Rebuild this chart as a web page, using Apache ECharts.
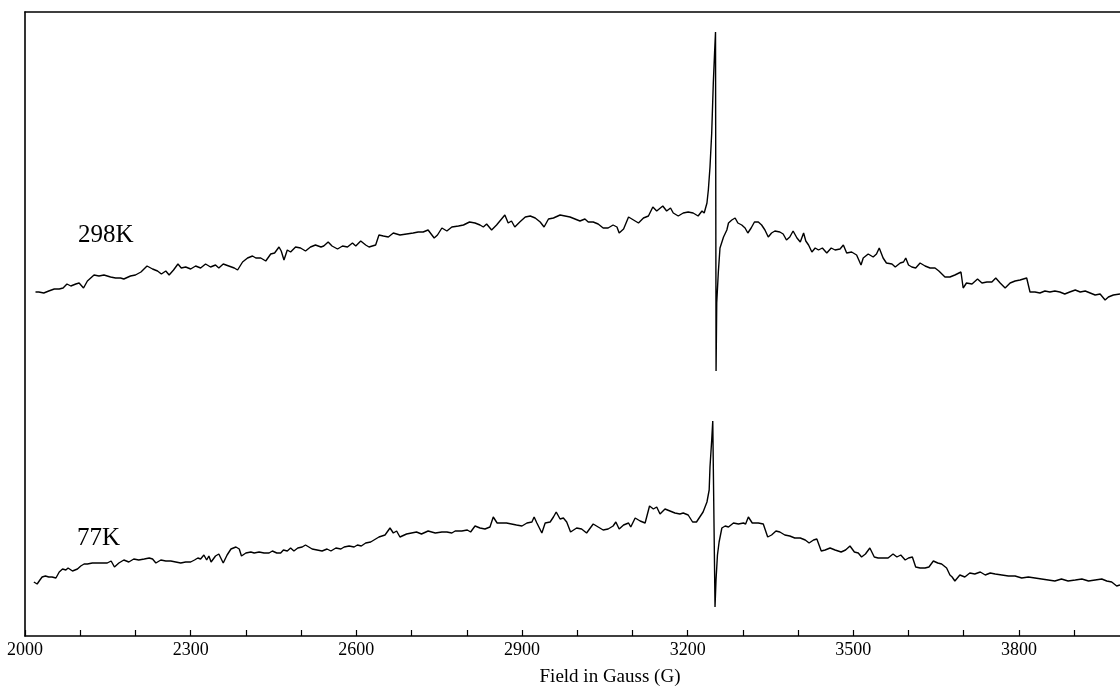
<!DOCTYPE html>
<html>
<head>
<meta charset="utf-8">
<script src="https://cdn.jsdelivr.net/npm/echarts@6/dist/echarts.min.js"></script>
<style>
html,body{margin:0;padding:0;background:#fff;}
#chart{width:1120px;height:692px;}
</style>
</head>
<body>
<div id="chart"></div>
<script>
// Field (G) and intensity (arb. units)
const fields298 = [2019,2025,2034,2043,2053,2062,2069,2076,2083,2092,2098,2106,2113,2125,2134,2143,2155,2164,2173,2179,2191,2200,2210,2221,2231,2240,2247,2255,2261,2269,2277,2283,2291,2300,2309,2318,2327,2336,2345,2351,2359,2369,2379,2385,2394,2403,2412,2418,2427,2436,2445,2452,2460,2464,2469,2475,2481,2490,2499,2508,2517,2526,2536,2541,2549,2556,2566,2575,2584,2593,2599,2608,2617,2623,2635,2641,2649,2658,2667,2679,2691,2703,2712,2721,2730,2741,2747,2755,2764,2773,2785,2794,2805,2815,2824,2830,2836,2845,2854,2863,2869,2875,2881,2887,2896,2906,2915,2924,2933,2940,2948,2957,2969,2978,2987,2996,3005,3014,3020,3029,3038,3047,3056,3065,3072,3076,3084,3093,3102,3111,3120,3129,3137,3144,3155,3162,3169,3174,3183,3192,3201,3210,3219,3226,3230,3235,3237.5,3240.5,3243.6,3246.5,3249,3250.5,3251.5,3252.7,3255.6,3258.6,3265,3271,3274,3280,3286,3291,3298,3304,3309,3315,3321,3328,3334,3340,3346,3352,3358,3367,3373,3379,3385,3391,3398,3404,3410,3414,3419,3425,3431,3437,3444,3452,3460,3467,3476,3482,3488,3497,3506,3514,3518,3527,3536,3542,3547,3554,3560,3570,3576,3585,3591,3595,3600,3606,3613,3621,3630,3639,3648,3655,3666,3675,3684,3695,3699,3705,3715,3725,3733,3742,3751,3758,3766,3775,3784,3793,3802,3805,3814,3820,3829,3838,3847,3856,3865,3874,3883,3892,3902,3911,3920,3929,3938,3947,3956,3962,3971,3983];
const values298 = [344,344,343,345,347,347,348,352,350,352,353,348,355,361,360,361,359,358,358,357,360,361,364,370,367,365,362,365,361,366,372,368,369,367,370,368,372,369,371,368,372,370,368,366,374,378,380,378,378,375,382,383,389,385,376,386,384,389,388,385,389,391,389,390,394,390,387,390,389,393,390,395,391,389,391,401,400,399,403,401,402,403,404,404,406,398,401,408,405,409,410,411,414,413,411,409,412,406,411,417,421,413,415,409,414,419,420,418,414,409,417,418,421,420,419,417,415,417,414,414,412,408,408,411,409,403,407,419,416,413,418,420,429,425,430,425,428,423,420,423,424,423,420,425,423,433,446,469,503,553,586,604,265,333,364,388,399,406,413,416,418,413,411,408,403,408,414,414,411,406,399,403,405,404,402,396,399,405,398,394,403,395,391,384,388,386,388,383,388,386,387,391,383,384,381,371,378,382,379,382,388,378,373,372,369,373,374,378,371,369,368,373,370,368,368,365,359,359,361,364,348,353,352,357,353,354,354,358,353,348,353,355,356,354,358,344,344,343,345,344,345,344,342,344,346,344,345,343,341,342,336,339,341,342];

const fields77 = [2016,2022,2027,2031,2037,2043,2049,2056,2062,2068,2074,2078,2086,2095,2101,2107,2113,2122,2131,2140,2149,2156,2162,2170,2179,2188,2197,2206,2216,2225,2231,2237,2246,2255,2264,2273,2282,2291,2300,2307,2313,2318,2324,2329,2333,2337,2345,2351,2359,2366,2373,2382,2388,2392,2400,2409,2415,2424,2433,2442,2448,2456,2463,2468,2475,2481,2487,2494,2502,2508,2514,2520,2529,2538,2547,2554,2563,2572,2578,2587,2596,2602,2609,2617,2626,2635,2641,2652,2661,2667,2673,2679,2691,2700,2709,2718,2730,2743,2755,2764,2773,2779,2791,2801,2807,2815,2824,2833,2842,2848,2855,2863,2872,2881,2890,2900,2909,2918,2922,2927,2936,2942,2951,2957,2962,2969,2975,2981,2988,2999,3008,3017,3029,3038,3047,3056,3065,3070,3076,3084,3093,3097,3105,3114,3123,3131,3138,3144,3150,3159,3168,3177,3186,3192,3201,3209,3216,3222,3228,3235,3239,3240.5,3243.6,3245.5,3249.6,3251.4,3254,3257,3262,3268,3274,3283,3292,3301,3305,3310,3317,3328,3337,3345,3352,3360,3367,3376,3385,3394,3404,3413,3420,3428,3434,3442,3449,3458,3467,3478,3486,3494,3502,3509,3515,3522,3530,3538,3545,3554,3563,3572,3579,3586,3594,3600,3607,3613,3621,3630,3637,3645,3653,3660,3669,3675,3679,3684,3693,3702,3711,3720,3730,3739,3748,3757,3769,3781,3793,3805,3817,3829,3841,3853,3865,3877,3889,3902,3914,3926,3938,3950,3959,3968,3977,3983];
const values77 = [54,52,56,59,60,59,59,58,64,67,66,68,65,67,70,72,72,73,73,73,73,75,69,73,76,74,77,76,77,78,77,73,76,75,75,74,73,74,74,76,78,77,81,76,80,74,80,82,73,81,87,89,87,80,83,84,83,84,83,83,85,83,83,86,85,88,85,88,89,91,89,87,86,85,87,85,88,87,89,90,89,91,90,93,94,97,99,101,108,103,105,99,102,103,104,102,105,103,104,104,103,105,105,106,104,110,108,107,109,119,113,113,113,112,111,110,113,114,119,113,103,113,114,119,124,117,118,114,104,108,107,103,112,109,106,107,110,114,107,111,113,109,118,115,113,130,127,129,122,127,125,123,122,123,121,114,114,119,124,134,146,169,196,215,29,56,81,94,108,110,109,113,112,113,112,119,113,113,112,99,101,105,104,101,100,98,98,96,93,96,97,85,86,88,86,84,86,90,84,83,79,82,88,79,78,78,78,82,79,81,76,78,79,69,68,68,69,75,73,72,68,61,59,55,61,59,63,62,64,61,63,62,61,60,60,58,59,58,57,56,55,57,55,56,57,55,56,57,55,54,50,51];

const tickValues = [2000,2100,2200,2300,2400,2500,2600,2700,2800,2900,3000,3100,3200,3300,3400,3500,3600,3700,3800,3900];
const labelValues = [2000,2300,2600,2900,3200,3500,3800];
const xName = 'Field in Gauss (G)';
const seriesNames = ['298K','77K'];

const pairs = (xs, ys) => xs.map((x, i) => [x, ys[i]]);

const chart = echarts.init(document.getElementById('chart'), null, {renderer: 'canvas'});
const serif = '"Liberation Serif", "DejaVu Serif", serif';
chart.setOption({
  animation: false,
  backgroundColor: '#fff',
  grid: {left: 25, right: 0, top: 12, bottom: 56, containLabel: false},
  xAxis: [{
    type: 'value', min: 2000, max: 3983, position: 'bottom',
    axisLine: {show: true, onZero: false, lineStyle: {color: '#000', width: 1.6}},
    axisTick: {show: true, inside: true, length: 6, customValues: tickValues, lineStyle: {color: '#000', width: 1.2}},
    axisLabel: {show: true, customValues: labelValues, formatter: v => String(v), color: '#000', fontFamily: serif, fontSize: 18, margin: 5},
    splitLine: {show: false}
  }, {
    type: 'value', min: 2000, max: 3983, position: 'top',
    axisLine: {show: true, onZero: false, lineStyle: {color: '#000', width: 1.6}},
    axisTick: {show: false}, axisLabel: {show: false}, splitLine: {show: false}
  }],
  yAxis: {
    type: 'value', min: 0, max: 624,
    axisLine: {show: true, lineStyle: {color: '#000', width: 1.6}},
    axisTick: {show: false}, axisLabel: {show: false}, splitLine: {show: false}
  },
  graphic: [
    {type: 'text', x: 610, y: 677, style: {text: xName, fontFamily: serif, fontSize: 19, fill: '#000', textAlign: 'center', textVerticalAlign: 'middle'}},
    {type: 'text', x: 78, y: 235, style: {text: seriesNames[0], fontFamily: serif, fontSize: 25, fill: '#000', textAlign: 'left', textVerticalAlign: 'middle'}},
    {type: 'text', x: 77, y: 538, style: {text: seriesNames[1], fontFamily: serif, fontSize: 25, fill: '#000', textAlign: 'left', textVerticalAlign: 'middle'}}
  ],
  series: [
    {name: seriesNames[0], type: 'line', data: pairs(fields298, values298), showSymbol: false, lineStyle: {color: '#000', width: 1.4}, z: 3},
    {name: seriesNames[1], type: 'line', data: pairs(fields77, values77), showSymbol: false, lineStyle: {color: '#000', width: 1.4}, z: 3}
  ]
});
</script>
</body>
</html>
